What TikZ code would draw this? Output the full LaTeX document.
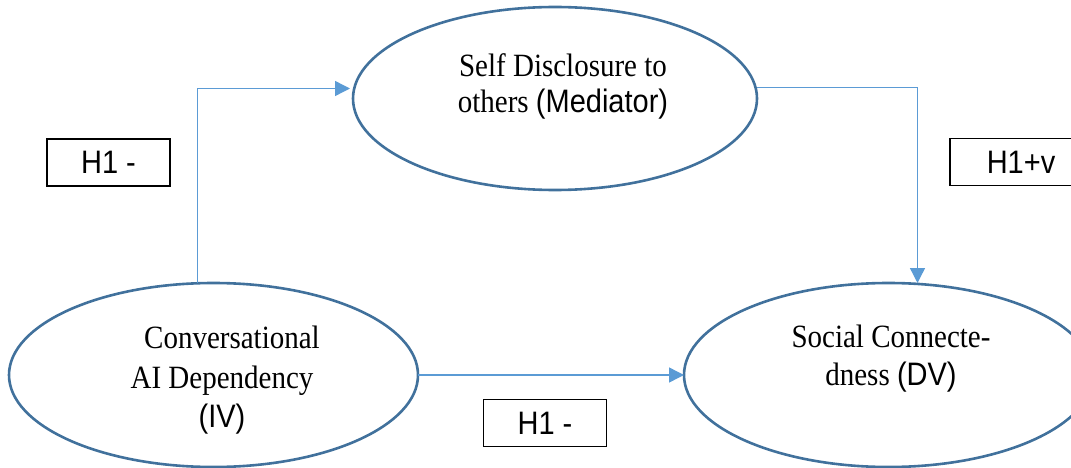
\documentclass[tikz,border=0pt]{standalone}
\usepackage{fontspec}
\usepackage{graphicx}
\setmainfont{Liberation Serif}
\setsansfont{Liberation Sans}
\usetikzlibrary{shapes.geometric,arrows.meta}
\definecolor{ellblue}{HTML}{41719C}
\definecolor{arrblue}{HTML}{5B9BD5}
\newcommand\tallt[1]{\scalebox{1}[1.12]{#1}}
\tikzset{
  oval/.style={ellipse, draw=ellblue, line width=2.6pt, inner sep=0pt, outer sep=0pt},
  txt/.style={anchor=base, inner sep=0pt, font=\fontsize{29}{37}\selectfont},
  hbox/.style={draw=black, line width=1.4pt, inner sep=0pt, minimum width=123pt, minimum height=47pt, font=\sffamily\fontsize{29}{35}\selectfont},
  conn/.style={draw=arrblue, line width=1.4pt, -{Triangle[length=15pt,width=15pt]}}
}
\begin{document}
\begin{tikzpicture}[x=1pt,y=-1pt]
\useasboundingbox (0,0) rectangle (1071,468);
% ellipses
\node[oval, minimum width=409pt, minimum height=184pt] (left) at (213.5,375) {};
\node[oval, minimum width=404pt, minimum height=183pt] (top) at (555,98.5) {};
\node[oval, minimum width=409pt, minimum height=184pt] (right) at (888.5,375) {};
% texts
\node[txt] (t1) at (563,77) {\tallt{Self Disclosure to}};
\node[txt] (t2) at (563,113) {\tallt{others \textsf{(Mediator)}}};
\node[txt] (l1) at (232,348) {\tallt{Conversational}};
\node[txt] (l2) at (222,388) {\tallt{AI Dependency}};
\node[txt] (l3) at (222,427) {\tallt{\sffamily (IV)}};
\node[txt] (r1) at (891,347) {\tallt{Social Connecte-}};
\node[txt] (r2) at (891,385) {\tallt{dness \textsf{(DV)}}};
% hypothesis boxes
\node[hbox] (h1) at (108.5,162.5) {\tallt{H1 -}};
\node[hbox, minimum width=142pt] (h2) at (1021,162) {\tallt{H1+v}};
\node[hbox] (h3) at (545,423) {\tallt{H1 -}};
% connectors
\draw[conn] ([xshift=-16pt]left.north) |- ([xshift=-3pt,yshift=10pt]top.west);
\draw[conn] ([yshift=11pt]top.east) -| ([xshift=29pt]right.north);
\draw[conn] (left.east) -- (right.west);
\end{tikzpicture}
\end{document}
